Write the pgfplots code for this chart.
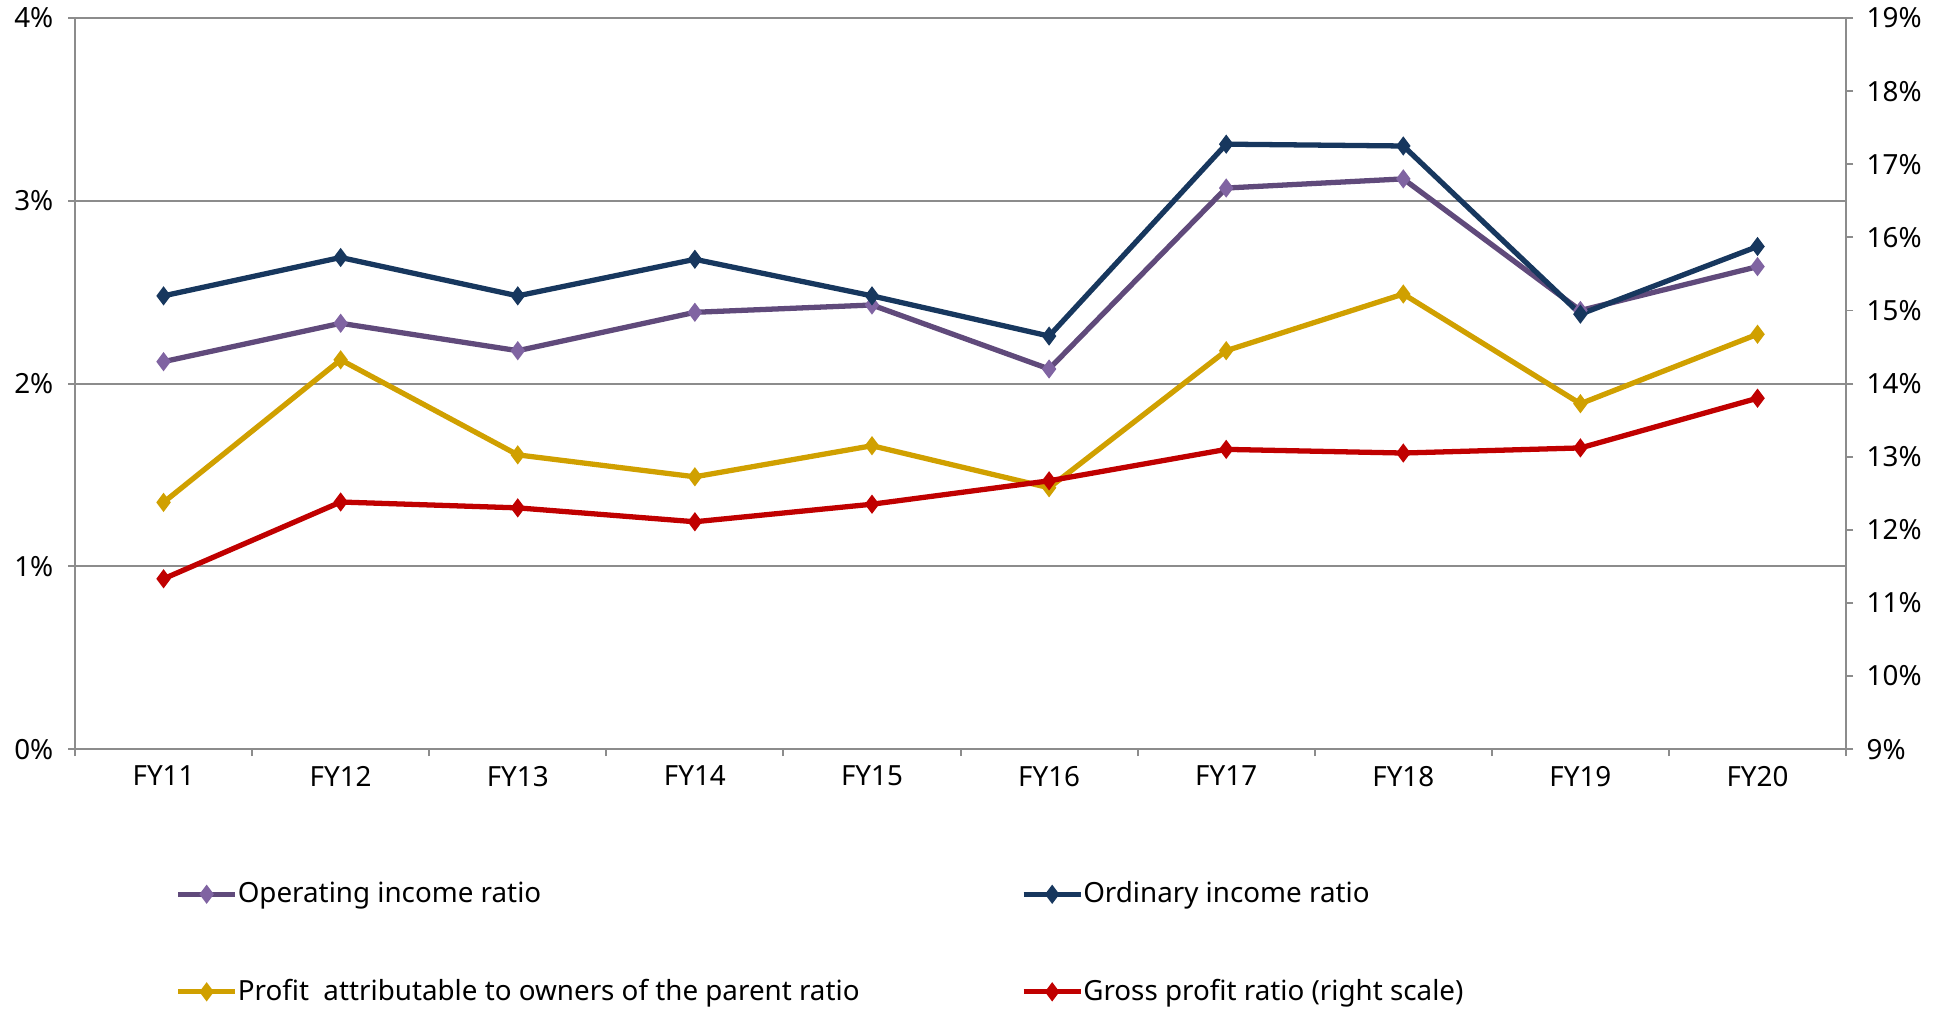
\documentclass[border=0pt]{standalone}
\usepackage{fontspec}
\setmainfont{Noto Sans}
\usepackage{pgfplots}
\pgfplotsset{compat=1.18}

\definecolor{opinc}{HTML}{604A7B}
\definecolor{opmark}{HTML}{8064A2}
\definecolor{ordinc}{HTML}{17375E}
\definecolor{profit}{HTML}{D0A000}
\definecolor{gross}{HTML}{C00000}
\definecolor{axisgray}{HTML}{8C8C8C}

\pgfplotsset{
  base/.style={
    width=637.6pt, height=263.2pt, scale only axis,
    at={(0,0)}, anchor=south west,
    xmin=-0.5, xmax=9.5,
    /pgf/number format/assume math mode=true,
    axis line style={axisgray, line width=0.7pt},
    tick style={axisgray, line width=0.7pt},
    tick align=outside,
    major tick length=2.5pt,
    minor tick length=2.5pt,
    tick label style={font=\fontsize{10}{12}\selectfont},
    legend image code/.code={%
      \draw[##1, mark repeat=2, mark phase=2] plot coordinates {(0pt,0pt) (10.25pt,0pt) (20.5pt,0pt)};},
  },
  ser/.style={line width=1.9pt, mark=diamond*, mark size=1.9pt, mark options={solid}},
}

\begin{document}
\begin{tikzpicture}
\begin{axis}[
    base,
    ymin=0, ymax=4,
    ytick={0,1,2,3,4},
    yticklabel={\pgfmathprintnumber{\tick}\%},
    yticklabel style={xshift=-1.8pt},
    xtick={0,...,9},
    xticklabels={FY11,FY12,FY13,FY14,FY15,FY16,FY17,FY18,FY19,FY20},
    every major x tick/.append style={draw=none},
    minor xtick={-0.5,0.5,...,9.5},
    xtick pos=bottom, ytick pos=left,
    ymajorgrids, grid style={axisgray, line width=0.7pt},
    legend columns=2,
    legend style={at={(0,0)}, anchor=north west, xshift=36pt, yshift=-47.5pt,
      draw=none, fill=none, inner sep=0pt, column sep=0pt, row sep=26pt,
      nodes={inner sep=0pt}, cells={anchor=west},
      font=\fontsize{10}{12}\selectfont},
  ]
  \addplot[ser, opinc, mark options={opmark}] coordinates {
    (0,2.12) (1,2.33) (2,2.18) (3,2.39) (4,2.43) (5,2.08) (6,3.07) (7,3.12) (8,2.40) (9,2.64)};
  \addlegendentry{\makebox[282pt][l]{Operating income ratio}}
  \addplot[ser, ordinc] coordinates {
    (0,2.48) (1,2.69) (2,2.48) (3,2.68) (4,2.48) (5,2.26) (6,3.31) (7,3.30) (8,2.38) (9,2.75)};
  \addlegendentry{Ordinary income ratio}
  \addplot[ser, profit] coordinates {
    (0,1.35) (1,2.13) (2,1.61) (3,1.49) (4,1.66) (5,1.43) (6,2.18) (7,2.49) (8,1.89) (9,2.27)};
  \addlegendentry{\makebox[282pt][l]{Profit~ attributable to owners of the parent ratio}}
  \addlegendimage{ser, gross}
  \addlegendentry{Gross profit ratio (right scale)}
\end{axis}

\begin{axis}[
    base,
    axis y line*=right,
    axis x line=none,
    ymin=9, ymax=19,
    ytick={9,...,19},
    yticklabel={\pgfmathprintnumber{\tick}\%},
    yticklabel style={xshift=1.4pt},
  ]
  \addplot[ser, gross] coordinates {
    (0,11.33) (1,12.38) (2,12.30) (3,12.11) (4,12.35) (5,12.67) (6,13.10) (7,13.05) (8,13.12) (9,13.80)};
\end{axis}

\pgfresetboundingbox
\path[use as bounding box] (-27pt,-93.3pt) rectangle (672.5pt,269.7pt);
\end{tikzpicture}
\end{document}
